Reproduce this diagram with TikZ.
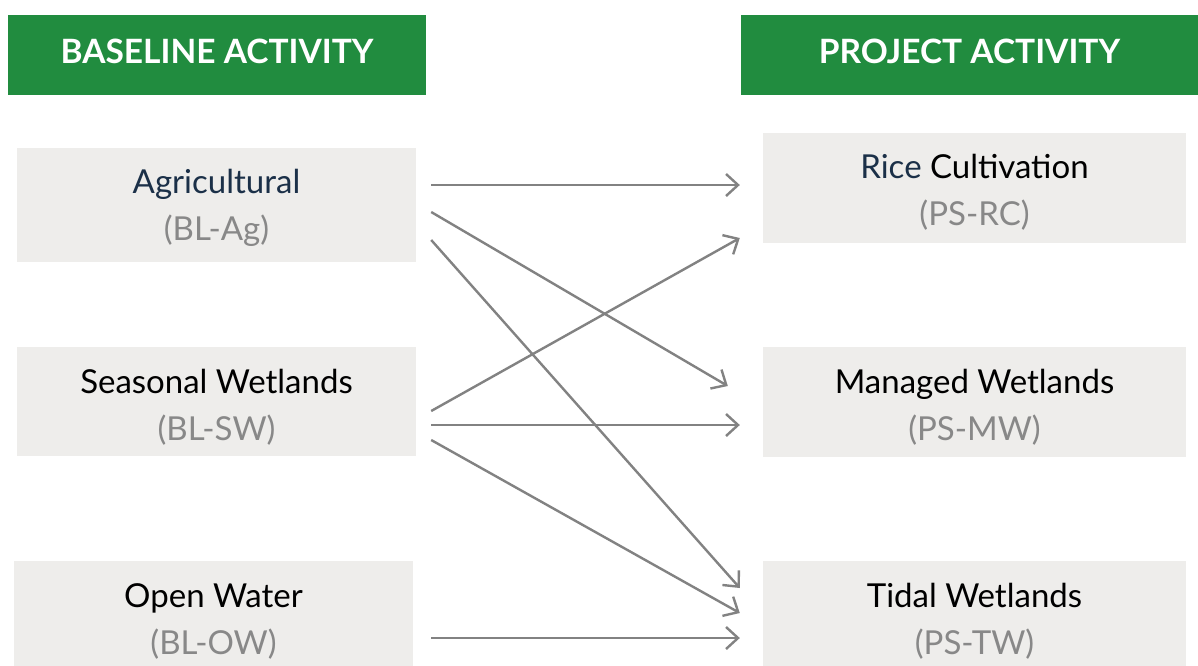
\documentclass[tikz,border=0pt]{standalone}
\usepackage{fontspec}
\setmainfont{Lato}
\usetikzlibrary{arrows.meta}
\definecolor{hdrgreen}{HTML}{218C3F}
\definecolor{boxgray}{HTML}{EEEDEB}
\definecolor{codegray}{HTML}{888888}
\definecolor{arrgray}{HTML}{828282}
\definecolor{navy}{HTML}{1B3048}
\tikzset{
  header/.style={fill=hdrgreen, text=white, inner sep=0pt, minimum height=80pt,
    text depth=8pt, font=\fontsize{33.5}{33.5}\selectfont\bfseries},
  actbox/.style={fill=boxgray, inner sep=0pt},
  boxtext/.style={inner sep=0pt, align=center, font=\fontsize{33}{47}\selectfont},
  link/.style={draw=arrgray, line width=2.4pt,
    -{Straight Barb[length=12pt, width=22pt, line width=2.4pt]}},
}
\newcommand{\code}[1]{\textcolor{codegray}{#1}}
\begin{document}
\begin{tikzpicture}[x=1pt,y=-1pt]
\useasboundingbox (0,0) rectangle (1198,665);
\fill[white] (0,0) rectangle (1198,665);
% headers
\node[header, minimum width=418pt] (hbl) at (217,55) {BASELINE ACTIVITY};
\node[header, minimum width=457pt] (hpa) at (969.5,55) {PROJECT ACTIVITY};
% left boxes
\node[actbox, minimum width=399pt, minimum height=114pt] (ag) at (216.5,205) {};
\node[actbox, minimum width=399pt, minimum height=109pt] (sw) at (216.5,401.5) {};
\node[actbox, minimum width=399pt, minimum height=115pt] (ow) at (213.5,618.5) {};
% right boxes
\node[actbox, minimum width=423pt, minimum height=110pt] (rc) at (974.5,188) {};
\node[actbox, minimum width=423pt, minimum height=110pt] (mw) at (974.5,402) {};
\node[actbox, minimum width=423pt, minimum height=115pt] (tw) at (974.5,618.5) {};
% box texts
\node[boxtext] (agt) at ([shift={(0,3)}]ag.center) {\textcolor{navy}{Agricultural}\\\code{(BL-Ag)}};
\node[boxtext] (swt) at ([shift={(0,6)}]sw.center) {Seasonal Wetlands\\\code{(BL-SW)}};
\node[boxtext] (owt) at ([shift={(0,3)}]ow.center) {Open Water\\\code{(BL-OW)}};
\node[boxtext] (rct) at ([shift={(0,4)}]rc.center) {\textcolor{navy}{Rice} Cultivation\\\code{(PS-RC)}};
\node[boxtext] (mwt) at ([shift={(0,5)}]mw.center) {Managed Wetlands\\\code{(PS-MW)}};
\node[boxtext] (twt) at ([shift={(0,3)}]tw.center) {Tidal Wetlands\\\code{(PS-TW)}};
% connectors
\draw[link] ([shift={(15,-20)}]ag.east) -- ([shift={(-23,-3)}]rc.west);
\draw[link] ([shift={(15,7)}]ag.east) -- ([shift={(-35,-16)}]mw.west);
\draw[link] ([shift={(15,35)}]ag.east) -- ([shift={(-23,-30.5)}]tw.west);
\draw[link] ([shift={(15,9.5)}]sw.east) -- ([shift={(-23,50)}]rc.west);
\draw[link] ([shift={(15,23.5)}]sw.east) -- ([shift={(-23,23)}]mw.west);
\draw[link] ([shift={(15,38.5)}]sw.east) -- ([shift={(-23,-5.5)}]tw.west);
\draw[link] ([shift={(18,19.5)}]ow.east) -- ([shift={(-23,19.5)}]tw.west);
\end{tikzpicture}
\end{document}
